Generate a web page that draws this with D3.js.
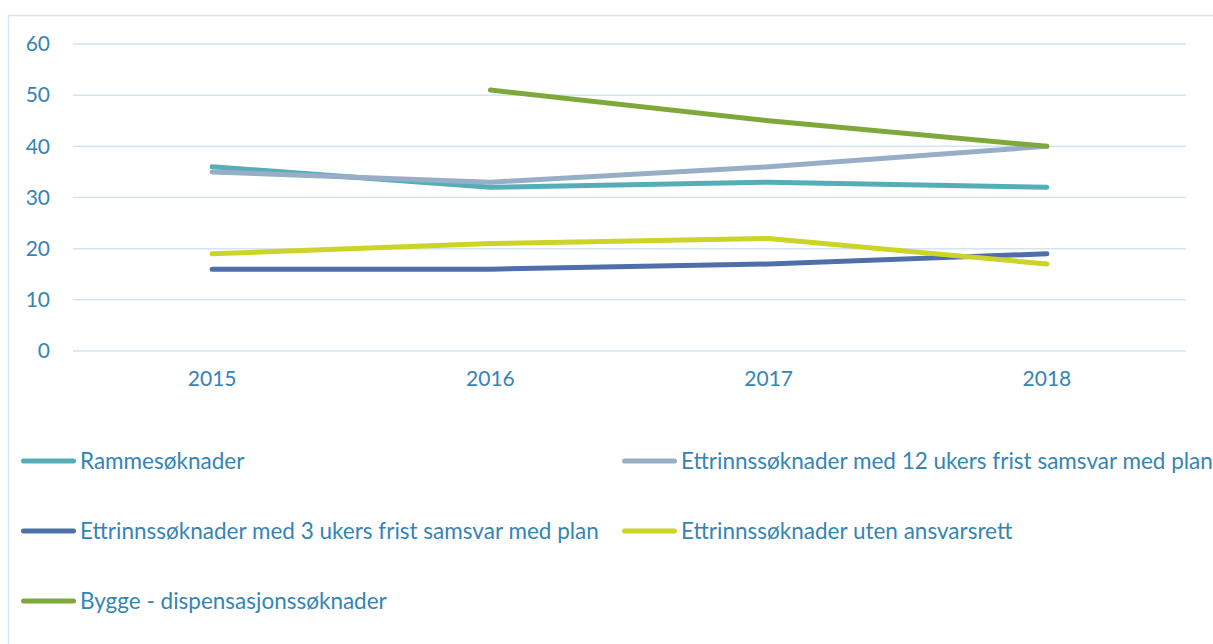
<!DOCTYPE html>
<html>
<head>
<meta charset="utf-8">
<script src="https://cdn.jsdelivr.net/npm/d3@7"></script>
<style>
  body { margin: 0; background: #fff; }
  text { font-family: Lato, "Open Sans", sans-serif; fill: #3584b5; }
</style>
</head>
<body>
<div id="chart"></div>
<script>
// data
var years = ["2015", "2016", "2017", "2018"];
var yTicks = [0, 10, 20, 30, 40, 50, 60];
var seriesNames = [
    "Rammesøknader",
    "Ettrinnssøknader med 12 ukers frist samsvar med plan",
    "Ettrinnssøknader med 3 ukers frist samsvar med plan",
    "Ettrinnssøknader uten ansvarsrett",
    "Bygge - dispensasjonssøknader"
];
var ramme = [36, 32, 33, 32];
var ettrinn12 = [35, 33, 36, 40];
var ettrinn3 = [16, 16, 17, 19];
var utenAnsvar = [19, 21, 22, 17];
var dispensasjon = [null, 51, 45, 40];
var seriesValues = [ramme, ettrinn12, ettrinn3, utenAnsvar, dispensasjon];
var colors = ["#55adb8", "#97aec6", "#4f6faa", "#cbd427", "#7fa83b"];

var W = 1213, H = 644;
var margin = { top: 44, right: 27, bottom: 293, left: 73 },
    width = W - margin.left - margin.right,
    height = H - margin.top - margin.bottom;

var svg = d3.select("#chart")
    .append("svg")
    .attr("width", W)
    .attr("height", H);

// chart frame (clipped at right/bottom in the reference)
svg.append("rect")
    .attr("x", 8.5)
    .attr("y", 15.5)
    .attr("width", W + 10)
    .attr("height", H + 10)
    .style("fill", "none")
    .style("stroke", "#d5e6f3")
    .style("stroke-width", 1.5);

var g = svg.append("g")
    .attr("transform", "translate(" + margin.left + "," + margin.top + ")");

var x = d3.scaleBand()
    .domain(years)
    .range([0, width]);

var y = d3.scaleLinear()
    .domain([0, 60])
    .range([height, 0]);

// gridlines
g.selectAll(".grid")
    .data(yTicks)
    .enter()
    .append("line")
    .attr("class", "grid")
    .attr("x1", 0)
    .attr("x2", width)
    .attr("y1", function (d) { return y(d); })
    .attr("y2", function (d) { return y(d); })
    .style("stroke", "#d3e5f2")
    .style("stroke-width", 1.5);

// Y axis
var yAxis = g.append("g")
    .call(d3.axisLeft(y).tickValues(yTicks).tickSize(0).tickPadding(23));
yAxis.select(".domain").remove();
yAxis.selectAll("text")
    .style("font-size", "21px")
    .style("fill", "#3584b5");

// X axis
var xAxis = g.append("g")
    .attr("transform", "translate(0," + height + ")")
    .call(d3.axisBottom(x).tickSize(0).tickPadding(20));
xAxis.select(".domain").remove();
xAxis.selectAll("text")
    .style("font-size", "21px")
    .style("fill", "#3584b5");

// lines
var line = d3.line()
    .defined(function (d) { return d != null; })
    .x(function (d, i) { return x(years[i]) + x.bandwidth() / 2; })
    .y(function (d) { return y(d); });

g.selectAll(".series")
    .data(seriesValues)
    .enter()
    .append("path")
    .attr("class", "series")
    .attr("d", function (d) { return line(d); })
    .style("fill", "none")
    .style("stroke", function (d, i) { return colors[i]; })
    .style("stroke-width", 5)
    .style("stroke-linecap", "round")
    .style("stroke-linejoin", "round");

// legend
var legendPos = [[21, 461], [622, 461], [21, 531], [622, 531], [21, 601]];
var legend = svg.selectAll(".legend")
    .data(seriesNames)
    .enter()
    .append("g")
    .attr("class", "legend")
    .attr("transform", function (d, i) { return "translate(" + legendPos[i][0] + "," + legendPos[i][1] + ")"; });

legend.append("line")
    .attr("x1", 2.5)
    .attr("x2", 52.5)
    .style("stroke", function (d, i) { return colors[i]; })
    .style("stroke-width", 5)
    .style("stroke-linecap", "round");

legend.append("text")
    .attr("x", 59)
    .attr("dy", "0.35em")
    .style("font-size", "22.5px")
    .text(function (d) { return d; });
</script>
</body>
</html>
